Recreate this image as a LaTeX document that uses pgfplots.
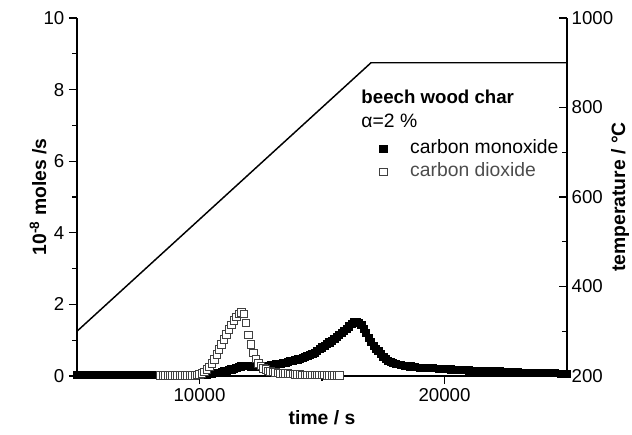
\documentclass[border=0pt]{standalone}
\usepackage{fontspec}
\setmainfont{Liberation Sans}
\usepackage{pgfplots}
\pgfplotsset{compat=1.18}
\begin{document}
\begin{tikzpicture}
\useasboundingbox (-57.75pt,-44.25pt) rectangle (416.25pt,282pt);
\begin{axis}[
  at={(0,0)}, anchor=south west,
  scale only axis, width=367.5pt, height=268.5pt,
  xmin=5000, xmax=25000, ymin=0, ymax=10,
  axis x line*=bottom, axis y line*=left,
  clip mode=individual,
  xtick={10000,20000}, minor xtick={15000},
  ytick={0,2,4,6,8,10}, minor ytick={1,3,5,7,9},
  tick align=outside, major tick length=6pt, minor tick length=3.5pt,
  every tick/.style={black, line width=0.8pt},
  axis line style={line width=0.9pt},
  every tick label/.append style={font=\fontsize{14}{16}\selectfont},
  /pgf/number format/assume math mode=true,
  /pgf/number format/set thousands separator={},
  scaled x ticks=false,
  legend style={at={(rel axis cs:0.604,0.660)}, anchor=north west, draw=none, fill=none,
    inner sep=0pt, column sep=0pt, row sep=4.25pt,
    nodes={inner sep=0pt, text height=10pt, text depth=3pt},
    font=\fontsize{14.5}{17}\selectfont},
  legend cell align=left,
  legend image code/.code={%
    \pgfpathrectangle{\pgfqpoint{0pt}{-3pt}}{\pgfqpoint{27.75pt}{6pt}}%
    \pgfusepath{use as bounding box}%
    \draw[mark repeat=2,mark phase=2,#1] plot coordinates {(6.5pt,0pt)(7.5pt,0pt)(8.5pt,0pt)};},
]
\addplot[only marks, mark=square*, mark size=2.7pt, mark options={fill=black, draw=black}] coordinates {
(5000,0.04)(5200,0.04)(5400,0.04)(5600,0.04)(5800,0.04)(6000,0.04)(6200,0.04)(6400,0.04)
(6600,0.04)(6800,0.04)(7000,0.04)(7200,0.04)(7400,0.04)(7600,0.04)(7800,0.04)(8000,0.04)
(8200,0.04)(8400,0.04)(8600,0.04)(8800,0.04)(9000,0.04)(9200,0.04)(9400,0.04)(9600,0.04)
(9800,0.04)(10000,0.04)(10100,0.04)(10200,0.05)(10300,0.05)(10400,0.06)(10500,0.07)
(10600,0.08)(10700,0.09)(10800,0.10)(10900,0.12)(11000,0.13)(11100,0.15)(11200,0.17)
(11300,0.19)(11400,0.21)(11500,0.23)(11600,0.25)(11700,0.27)(11800,0.28)(11900,0.29)
(12000,0.28)(12100,0.27)(12200,0.26)(12300,0.25)(12400,0.25)(12500,0.26)(12600,0.27)
(12700,0.28)(12800,0.29)(12900,0.30)(13000,0.31)(13100,0.33)(13200,0.34)(13300,0.35)
(13400,0.37)(13500,0.38)(13600,0.40)(13700,0.42)(13800,0.43)(13900,0.45)(14000,0.47)
(14100,0.49)(14200,0.52)(14300,0.54)(14400,0.57)(14500,0.60)(14600,0.63)(14700,0.66)
(14800,0.70)(14900,0.76)(15000,0.80)(15100,0.84)(15200,0.89)(15300,0.94)(15400,0.99)
(15500,1.05)(15600,1.10)(15700,1.15)(15800,1.21)(15900,1.27)(16000,1.33)(16100,1.39)
(16200,1.45)(16300,1.50)(16400,1.52)(16500,1.49)(16600,1.42)(16700,1.32)(16800,1.20)
(16900,1.07)(17000,0.95)(17100,0.85)(17200,0.77)(17300,0.70)(17400,0.62)(17500,0.54)
(17600,0.48)(17700,0.43)(17800,0.39)(17900,0.36)(18000,0.34)(18200,0.31)(18400,0.29)
(18600,0.27)(18800,0.25)(19000,0.24)(19250,0.23)(19500,0.22)(19750,0.21)(20000,0.20)
(20250,0.19)(20500,0.18)(20750,0.17)(21000,0.16)(21250,0.15)(21500,0.15)(21750,0.14)
(22000,0.13)(22250,0.13)(22500,0.12)(22750,0.12)(23000,0.11)(23250,0.10)(23500,0.10)
(23750,0.09)(24000,0.09)(24250,0.08)(24500,0.08)(24750,0.07)(25000,0.07)
};
\addlegendentry{carbon monoxide}
\addplot[only marks, mark=square*, mark size=2.8pt, mark options={fill=white, draw=black!75, line width=0.5pt}] coordinates {
(8400,0.02)(8500,0.02)(8600,0.02)(8700,0.02)(8800,0.02)(8900,0.02)(9000,0.02)(9100,0.02)
(9200,0.02)(9300,0.02)(9400,0.02)(9500,0.02)(9600,0.02)(9700,0.02)(9800,0.02)
(9900,0.03)(10000,0.05)(10100,0.08)(10200,0.12)(10300,0.18)(10400,0.26)(10500,0.36)
(10600,0.47)(10700,0.60)(10800,0.74)(10900,0.88)(11000,1.02)(11100,1.16)(11200,1.30)
(11300,1.43)(11400,1.55)(11500,1.65)(11600,1.73)(11700,1.78)(11800,1.74)(11900,1.48)
(12000,1.15)(12100,0.88)(12200,0.65)(12300,0.48)(12400,0.36)(12500,0.28)(12600,0.22)
(12700,0.18)(12800,0.15)(12900,0.13)(13000,0.11)(13100,0.10)(13200,0.09)(13300,0.08)
(13400,0.08)(13500,0.07)(13600,0.07)(13700,0.06)(13800,0.06)(13900,0.05)(14000,0.05)
(14100,0.05)(14200,0.04)(14300,0.04)(14400,0.04)(14500,0.04)(14600,0.03)(14700,0.03)
(14800,0.03)(14900,0.03)(15000,0.03)(15100,0.03)(15200,0.02)(15300,0.02)(15400,0.02)
(15500,0.02)(15600,0.02)(15700,0.02)
};
\addlegendentry{\textcolor{black!70}{carbon dioxide}}
\node[anchor=west, inner sep=0pt, font=\fontsize{14}{17}\selectfont\bfseries] at (rel axis cs:0.58,0.779) {beech wood char};
\node[anchor=west, inner sep=0pt, font=\fontsize{14.5}{17}\selectfont] at (rel axis cs:0.58,0.713) {α=2 \%};
\node[rotate=90, font=\fontsize{14.5}{17}\selectfont\bfseries] at ([xshift=-29.25pt]rel axis cs:0,0.5) {10\textsuperscript{-8} moles /s};
\node[font=\fontsize{14.5}{17}\selectfont\bfseries] at ([yshift=-31.5pt]rel axis cs:0.5,0) {time / s};
\end{axis}
\begin{axis}[
  at={(0,0)}, anchor=south west,
  scale only axis, width=367.5pt, height=268.5pt,
  xmin=5000, xmax=25000, ymin=200, ymax=1000,
  axis y line*=right, axis x line=none,
  clip mode=individual,
  ytick={200,400,600,800,1000}, minor ytick={300,500,700,900},
  tick align=inside, major tick length=6pt, minor tick length=3.5pt,
  every tick/.style={black, line width=0.8pt},
  axis line style={line width=0.9pt},
  every tick label/.append style={font=\fontsize{14}{16}\selectfont},
  /pgf/number format/assume math mode=true,
  /pgf/number format/set thousands separator={},
]
\addplot[black, line width=1.1pt] coordinates {(5000,300)(17000,900)(25000,900)};
\node[rotate=90, font=\fontsize{14.5}{17}\selectfont\bfseries] at ([xshift=39.75pt]rel axis cs:1,0.5) {temperature / °C};
\end{axis}
\end{tikzpicture}
\end{document}
